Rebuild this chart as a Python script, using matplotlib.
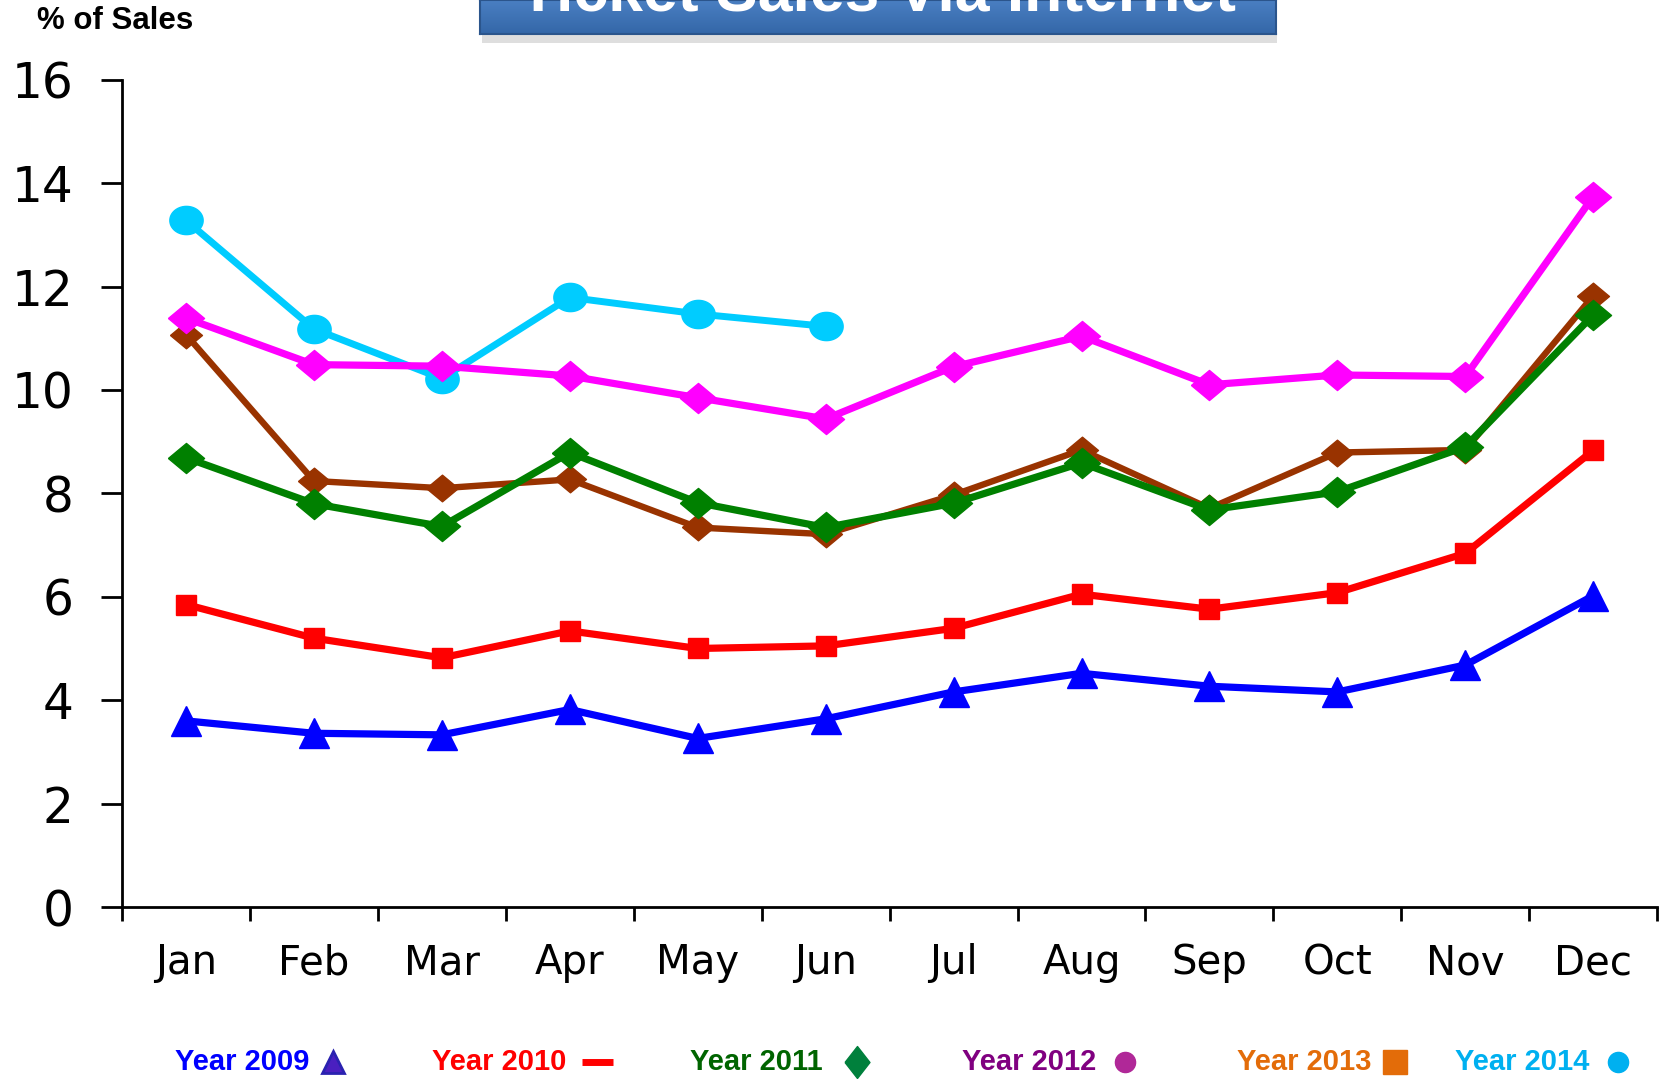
import numpy as np
import matplotlib.pyplot as plt
from matplotlib.lines import Line2D
from matplotlib.patches import Rectangle

plt.rcParams['font.family'] = ['DejaVu Sans']

months = ['Jan', 'Feb', 'Mar', 'Apr', 'May', 'Jun',
          'Jul', 'Aug', 'Sep', 'Oct', 'Nov', 'Dec']

# % of sales per month
y2009 = [3.60, 3.36, 3.33, 3.82, 3.26, 3.64, 4.16, 4.52, 4.27, 4.16, 4.68, 6.02]
y2010 = [5.85, 5.20, 4.82, 5.34, 5.00, 5.05, 5.39, 6.05, 5.76, 6.08, 6.84, 8.83]
y2011 = [8.69, 7.80, 7.36, 8.79, 7.82, 7.34, 7.81, 8.59, 7.68, 8.03, 8.90, 11.45]
y2012 = [11.07, 8.24, 8.10, 8.27, 7.34, 7.21, 7.97, 8.84, 7.71, 8.79, 8.84, 11.82]
y2013 = [11.39, 10.49, 10.46, 10.27, 9.85, 9.44, 10.45, 11.04, 10.10, 10.29, 10.26, 13.74]
y2014 = [13.28, 11.18, 10.22, 11.79, 11.47, 11.23]

legend_names = ['Year 2009', 'Year 2010', 'Year 2011', 'Year 2012', 'Year 2013', 'Year 2014']
legend_colors = ['#0000ff', '#ff0000', '#006400', '#800080', '#e36c09', '#00b0f0']

# wide diamond / ellipse marker shapes
diamond = [(-1.2, 0), (0, 1), (1.2, 0), (0, -1), (-1.2, 0)]
tall_diamond = [(-0.78, 0), (0, 1), (0.78, 0), (0, -1), (-0.78, 0)]
t = np.linspace(0, 2 * np.pi, 60)
ellipse = list(zip(1.18 * np.cos(t), np.sin(t)))

fig = plt.figure(figsize=(16.65, 10.79), dpi=100)
ax = fig.add_axes([0.0733, 0.1594, 0.922, 0.7667])

x = np.arange(len(months))
ax.plot(x, y2009, color='#0000ff', lw=5.2, marker='^', ms=21, zorder=3)
ax.plot(x, y2010, color='#ff0000', lw=5.2, marker='s', ms=15, zorder=3)
ax.plot(x, y2012, color='#993300', lw=4.6, marker=diamond, ms=23, zorder=3)
ax.plot(x, y2011, color='#008000', lw=5.2, marker=diamond, ms=26, zorder=4)
ax.plot(x[:len(y2014)], y2014, color='#00ccff', lw=5.0, marker=ellipse, ms=24, zorder=5)
ax.plot(x, y2013, color='#ff00ff', lw=5.2, marker=diamond, ms=26, zorder=6)

ax.set_xlim(-0.5, 11.5)
ax.set_ylim(0, 16)
ax.set_yticks(range(0, 17, 2))
ax.set_xticks(x)
ax.set_xticklabels(months)
ax.set_xticks(np.arange(-0.5, 12, 1), minor=True)
ax.tick_params(axis='x', which='major', length=0, pad=26, labelsize=29)
ax.tick_params(axis='x', which='minor', length=10, width=2, direction='out')
ax.tick_params(axis='y', length=15, width=2, direction='out', pad=20, labelsize=35)
for s in ['top', 'right']:
    ax.spines[s].set_visible(False)
for s in ['left', 'bottom']:
    ax.spines[s].set_linewidth(2)

fig.text(0.022, 0.9805, '% of Sales', ha='left', va='center', fontsize=22.5,
         weight='bold', family='Liberation Sans')

# title box, cut off at the top of the picture
shadow = Rectangle((0.2895, 0.9605), 0.4775, 0.04, transform=fig.transFigure,
                   facecolor='#c8c8c8', edgecolor='none', alpha=0.6, zorder=-1)
fig.patches.append(shadow)
tax = fig.add_axes([0.2883, 0.9685, 0.4781, 0.0315])
tax.set_zorder(2)
grad = np.linspace(0, 1, 50).reshape(-1, 1)
tax.imshow(grad, aspect='auto', cmap=plt.matplotlib.colors.LinearSegmentedColormap.from_list(
    'tb', ['#4a7fc2', '#3467a8']), extent=[0, 1, 0, 1])
tax.set_xticks([])
tax.set_yticks([])
for s in tax.spines.values():
    s.set_color('#2b558c')
    s.set_linewidth(1.5)
fig.text(0.527, 0.9907, 'Ticket Sales Via Internet', ha='center', va='baseline',
         fontsize=45, weight='bold', color='white', family='Liberation Sans', zorder=5)

# hand-made legend row
text_x = [175, 432, 690, 962, 1237, 1455]
ly = 1 - 1062 / 1079
for name, col, tx in zip(legend_names, legend_colors, text_x):
    fig.text(tx / 1665, ly, name, ha='left', va='center', fontsize=21, weight='bold',
             color=col, family='Liberation Sans')

def fig_marker(px, **kw):
    fig.add_artist(Line2D([px / 1665], [ly], transform=fig.transFigure, **kw))

fig_marker(333, marker='^', ms=16, color='#4a1fc0', markeredgecolor='#2a22b0', mew=2)
fig.add_artist(Line2D([582 / 1665, 613 / 1665], [ly, ly], transform=fig.transFigure,
                      color='#ff0000', lw=5, solid_capstyle='butt'))
fig_marker(857, marker=tall_diamond, ms=23, color='#00803c', lw=0)
fig_marker(1125, marker='o', ms=14.5, color='#b02898', lw=0)
fig_marker(1395, marker='s', ms=17, color='#e36c09', lw=0)
fig_marker(1618, marker='o', ms=14.5, color='#00b0f0', lw=0)

fig.savefig('out.png', dpi=100)
